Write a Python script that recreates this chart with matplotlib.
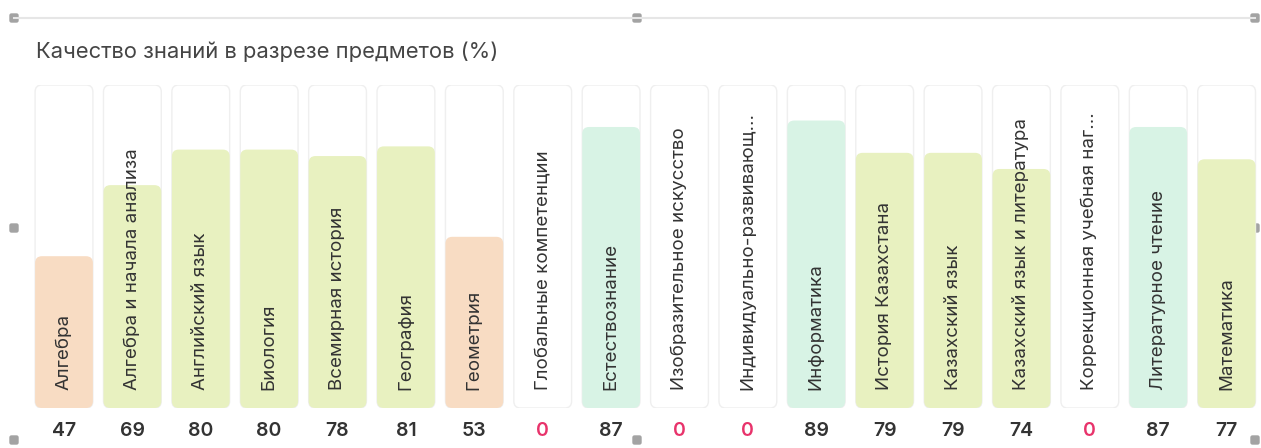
import matplotlib.pyplot as plt
from matplotlib.patches import FancyBboxPatch

plt.rcParams['font.family'] = ['Inter', 'DejaVu Sans']

title = "Качество знаний в разрезе предметов (%)"
subjects = [
    "Алгебра", "Алгебра и начала анализа", "Английский язык", "Биология",
    "Всемирная история", "География", "Геометрия", "Глобальные компетенции",
    "Естествознание", "Изобразительное искусство", "Индивидуально-развивающ...",
    "Информатика", "История Казахстана", "Казахский язык",
    "Казахский язык и литература", "Коррекционная учебная наг...",
    "Литературное чтение", "Математика",
]
quality = [47, 69, 80, 80, 78, 81, 53, 0, 87, 0, 0, 89, 79, 79, 74, 0, 87, 77]


def bar_color(v):
    if v < 60:
        return "#f8dcc3"
    if v < 85:
        return "#e8f1c0"
    return "#d8f3e5"


W, H = 1261, 448
fig = plt.figure(figsize=(W / 100, H / 100), dpi=100)
fig.patch.set_facecolor("white")

# editor frame decorations
deco = fig.add_axes([0, 0, 1, 1])
deco.set_xlim(0, W)
deco.set_ylim(H, 0)
deco.axis("off")
deco.plot([14, 1255], [18, 18], color="#e6e6e6", lw=1.5)
for hx, hy in [(14, 18), (637, 18), (1255, 18), (14, 228), (1255, 228),
               (14, 440), (637, 440), (1255, 440)]:
    deco.add_patch(FancyBboxPatch((hx - 4, hy - 4), 8, 8,
                                  boxstyle="round,pad=0,rounding_size=1.5",
                                  color="#a3a3a3"))
deco.text(36, 52, title, fontsize=15.8, color="#454545", va="center",
          ha="left")

# bars
ax = fig.add_axes([29.8 / W, 40 / H, 1231 / W, 323 / H])
ax.set_xlim(-0.5, len(subjects) - 0.5)
ax.set_ylim(0, 100)
ax.axis("off")

bw = 0.845
px_x = 1231 / len(subjects)
px_y = 323 / 100
asp = px_x / px_y

for i, (name, v) in enumerate(zip(subjects, quality)):
    track = FancyBboxPatch((i - bw / 2, 0), bw, 100,
                           boxstyle="round,pad=0,rounding_size=0.1",
                           mutation_aspect=asp,
                           facecolor="white", edgecolor="#efefef", lw=1.0)
    ax.add_patch(track)
    if v > 0:
        bar = FancyBboxPatch((i - bw / 2, 0), bw, v,
                             boxstyle="round,pad=0,rounding_size=0.1",
                             mutation_aspect=asp,
                             facecolor=bar_color(v), edgecolor="none")
        ax.add_patch(bar)
    ax.text(i, 5.5, name, rotation=90, ha="center", va="bottom",
            fontsize=13.5, color="#333333")
    ax.text(i, -7, str(v), ha="center", va="center", fontsize=14,
            fontweight="semibold",
            color="#e8336b" if v == 0 else "#333333", clip_on=False)

fig.savefig("out.png", dpi=100)
